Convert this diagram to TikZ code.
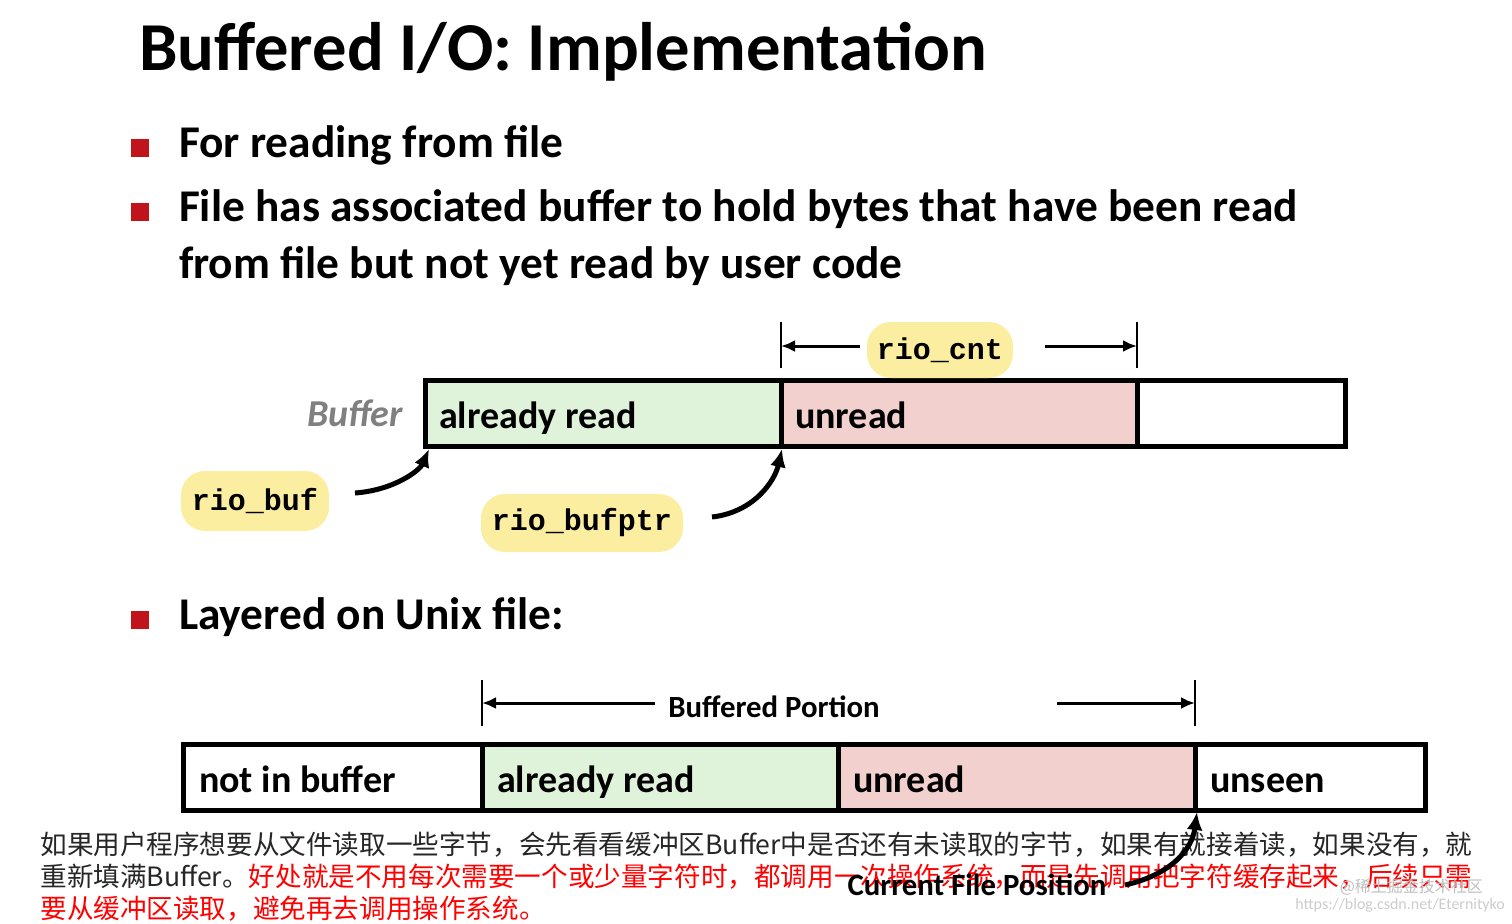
\documentclass[tikz,border=0pt]{standalone}
\usepackage{fontspec}
\setmainfont{Carlito}
\newfontfamily\monof{Liberation Mono}
\newfontfamily\cjk{Noto Sans CJK SC}
\usetikzlibrary{arrows.meta}
\definecolor{grn}{HTML}{DFF2DA}
\definecolor{pnk}{HTML}{F2D0CE}
\definecolor{ylw}{HTML}{FCEEA0}
\definecolor{bul}{HTML}{C0141A}
\begin{document}
\begin{tikzpicture}[x=0.5pt,y=-0.5pt,
  cell/.style={draw=black,line width=2.5pt},
  lbl/.style={anchor=base west,font=\bfseries\fontsize{19}{22}\selectfont},
  blob/.style={fill=ylw,rounded corners=12pt,inner sep=0pt,font=\monof\bfseries\fontsize{15}{17}\selectfont},
  bullet/.style={fill=bul,minimum size=9pt,inner sep=0pt},
  btxt/.style={anchor=west,font=\bfseries\fontsize{22.7}{28.5}\selectfont},
  tick/.style={line width=1.2pt},
  dim/.style={line width=1.5pt,-{Latex[length=7pt,width=6pt]}},
  ptr/.style={line width=2.5pt,-{Latex[length=9pt,width=8pt]}}]
\useasboundingbox (0,0) rectangle (1512,923);
\node[anchor=west,font=\bfseries\fontsize{34.3}{40}\selectfont] (title) at (132,52) {Buffered I/O: Implementation};
\node[bullet] (b1) at (140,148) {}; \node[btxt] (t1) at (172,145) {For reading from file};
\node[bullet] (b2) at (140,212) {};
\node[btxt,align=left] (t2) at (172,238) {File has associated buffer to hold bytes that have been read\\from file but not yet read by user code};
\node[bullet] (b3) at (140,620) {}; \node[btxt] (t3) at (172,617) {Layered on Unix file:};
% buffer 1
\draw[cell,fill=grn] (425,380) rectangle (781,446);
\draw[cell,fill=pnk] (781,380) rectangle (1137,446);
\draw[cell] (1137,380) rectangle (1345,446);
\node[lbl] (ar1) at (432,428) {already read};
\node[lbl] (un1) at (788,428) {unread};
\node[anchor=base east,text=gray,font=\bfseries\itshape\fontsize{19}{22}\selectfont] (buf) at (410,426) {Buffer};
\coordinate (c1) at (781,322); \coordinate (c1b) at (781,368);
\coordinate (c2) at (1137,322); \coordinate (c2b) at (1137,368);
\draw[tick] (c1) -- (c1b); \draw[tick] (c2) -- (c2b);
\coordinate (a1s) at (860,346); \coordinate (a1e) at (781,346);
\coordinate (a2s) at (1045,346); \coordinate (a2e) at (1137,346);
\draw[dim] (a1s) -- (a1e); \draw[dim] (a2s) -- (a2e);
\node[blob,minimum width=73pt,minimum height=28pt] (cnt) at (940,350) {rio\_cnt};
\node[blob,minimum width=74pt,minimum height=30pt] (rbuf) at (255,501) {rio\_buf};
\node[blob,minimum width=101pt,minimum height=29pt] (rptr) at (582,523) {rio\_bufptr};
\coordinate (p1s) at (355,493); \coordinate (p1e) at (429,449);
\coordinate (p2s) at (712,517); \coordinate (p2e) at (782,449);
\draw[ptr] (p1s) .. controls (395,490) and (420,470) .. (p1e);
\draw[ptr] (p2s) .. controls (755,512) and (775,480) .. (p2e);
% buffer 2
\draw[cell] (183,744) rectangle (482,810);
\draw[cell,fill=grn] (482,744) rectangle (838,810);
\draw[cell,fill=pnk] (838,744) rectangle (1195,810);
\draw[cell] (1195,744) rectangle (1425,810);
\node[lbl] (nb) at (192,792) {not in buffer};
\node[lbl] (ar2) at (490,792) {already read};
\node[lbl] (un2) at (846,792) {unread};
\node[lbl] (us) at (1203,792) {unseen};
\coordinate (d1) at (482,680); \coordinate (d1b) at (482,726);
\coordinate (d2) at (1195,680); \coordinate (d2b) at (1195,726);
\draw[tick] (d1) -- (d1b); \draw[tick] (d2) -- (d2b);
\coordinate (e1s) at (655,703); \coordinate (e1e) at (482,703);
\coordinate (e2s) at (1057,703); \coordinate (e2e) at (1195,703);
\draw[dim] (e1s) -- (e1e); \draw[dim] (e2s) -- (e2e);
\node[font=\bfseries\fontsize{15.4}{17}\selectfont] (bp) at (774,707) {Buffered Portion};
% chinese text
\node[anchor=north west,align=left,inner sep=0pt,font=\cjk\fontsize{13.3}{16}\selectfont,text=black!85] (cn) at (40,832)
 {如果用户程序想要从文件读取一些字节，会先看看缓冲区Buffer中是否还有未读取的字节，如果有就接着读，如果没有，就\\重新填满Buffer。\textcolor{red}{好处就是不用每次需要一个或少量字符时，都调用一次操作系统，而是先调用把字符缓存起来，后续只需}\\\textcolor{red}{要从缓冲区读取，避免再去调用操作系统。}};
\node[font=\bfseries\fontsize{15.4}{17}\selectfont] (cfp) at (977,885) {Current File Position};
\coordinate (f1s) at (1125,885); \coordinate (f1e) at (1197,812);
\draw[ptr] (f1s) .. controls (1170,875) and (1192,850) .. (f1e);
\node[anchor=east,text=black!25,font=\cjk\fontsize{8}{9}\selectfont] (wm1) at (1490,887) {@稀土掘金技术社区};
\node[anchor=east,text=black!20,font=\fontsize{8}{9}\selectfont] (wm2) at (1512,905) {https://blog.csdn.net/Eternityko};
\end{tikzpicture}
\end{document}
